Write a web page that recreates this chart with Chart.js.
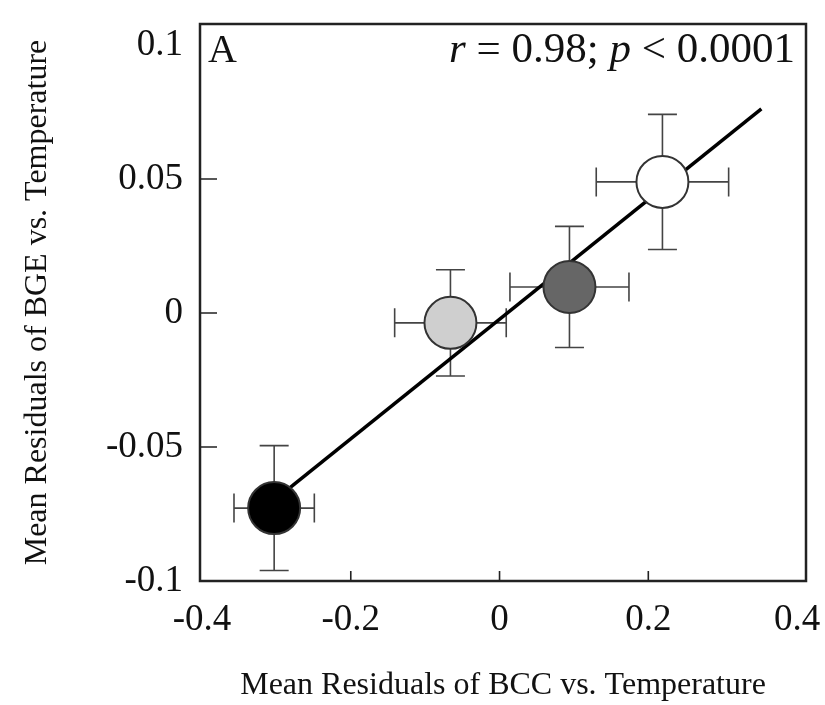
<!DOCTYPE html>
<html>
<head>
<meta charset="utf-8">
<title>BGE vs BCC residuals</title>
<script src="https://cdn.jsdelivr.net/npm/chart.js@4.4.1/dist/chart.umd.min.js"></script>
<style>
  html, body { margin: 0; padding: 0; background: #fff; }
  #wrap { width: 825px; height: 705px; }
</style>
</head>
<body>
<div id="wrap"><canvas id="grafico" width="825" height="705"></canvas></div>
<script>
// --- DADOS ---
const bccResidual = [-0.303, -0.066, 0.094, 0.219];
const bgeResidual = [-0.0728, -0.0037, 0.0097, 0.0489];
const bccErro = [0.054, 0.075, 0.080, 0.089];
const bgeErro = [0.0233, 0.0198, 0.0226, 0.0252];
const corPonto = ['#000000', '#cfcfcf', '#666666', '#ffffff'];

// reta de regressao (extremos)
const retaX = [-0.303, 0.352];
const retaY = [-0.0699, 0.0761];

const ticksX = [-0.4, -0.2, 0, 0.2, 0.4];
const ticksY = [-0.1, -0.05, 0, 0.05, 0.1];

const FONTE = '"Liberation Serif", "Times New Roman", serif';

// zera o padding extra que o Chart.js reserva para os rotulos das pontas
function semPadding(s) {
  s.paddingTop = 0; s.paddingBottom = 0; s.paddingLeft = 0; s.paddingRight = 0;
}

// barras de erro, desenhadas antes das marcas
const barrasErro = {
  id: 'barrasErro',
  beforeDatasetsDraw(chart) {
    const { ctx, scales: { x, y } } = chart;
    const cap = 14.5;
    ctx.save();
    ctx.strokeStyle = '#444';
    ctx.lineWidth = 1.6;
    for (let i = 0; i < bccResidual.length; i++) {
      const cx = x.getPixelForValue(bccResidual[i]);
      const cy = y.getPixelForValue(bgeResidual[i]);
      const x0 = x.getPixelForValue(bccResidual[i] - bccErro[i]);
      const x1 = x.getPixelForValue(bccResidual[i] + bccErro[i]);
      const y0 = y.getPixelForValue(bgeResidual[i] + bgeErro[i]);
      const y1 = y.getPixelForValue(bgeResidual[i] - bgeErro[i]);
      ctx.beginPath();
      ctx.moveTo(x0, cy); ctx.lineTo(x1, cy);
      ctx.moveTo(x0, cy - cap); ctx.lineTo(x0, cy + cap);
      ctx.moveTo(x1, cy - cap); ctx.lineTo(x1, cy + cap);
      ctx.moveTo(cx, y0); ctx.lineTo(cx, y1);
      ctx.moveTo(cx - cap, y0); ctx.lineTo(cx + cap, y0);
      ctx.moveTo(cx - cap, y1); ctx.lineTo(cx + cap, y1);
      ctx.stroke();
    }
    ctx.restore();
  }
};

// moldura completa, ticks para dentro e textos do painel
const moldura = {
  id: 'moldura',
  afterDraw(chart) {
    const { ctx, chartArea: a, scales: { x, y } } = chart;
    ctx.save();
    ctx.strokeStyle = '#222';
    ctx.lineWidth = 2.5;
    ctx.strokeRect(a.left, a.top, a.right - a.left, a.bottom - a.top);

    ctx.lineWidth = 1.6;
    ctx.beginPath();
    ticksY.slice(1, -1).forEach(v => {
      const py = y.getPixelForValue(v);
      ctx.moveTo(a.left, py); ctx.lineTo(a.left + 17, py);
    });
    ticksX.slice(1, -1).forEach(v => {
      const px = x.getPixelForValue(v);
      ctx.moveTo(px, a.bottom); ctx.lineTo(px, a.bottom - 10);
    });
    ctx.stroke();

    ctx.fillStyle = '#111';
    ctx.textBaseline = 'alphabetic';
    ctx.textAlign = 'left';
    ctx.font = '40px ' + FONTE;
    ctx.fillText('A', a.left + 8, a.top + 38);

    // r = 0.98; p < 0.0001  (r e p em italico)
    const partes = [
      ['italic', 'r'], ['normal', ' = 0.98; '], ['italic', 'p'], ['normal', ' < 0.0001']
    ];
    const tam = ' 43px ';
    let larg = 0;
    partes.forEach(p => { ctx.font = p[0] + tam + FONTE; larg += ctx.measureText(p[1]).width; });
    let px = a.right - 11 - larg;
    partes.forEach(p => {
      ctx.font = p[0] + tam + FONTE;
      ctx.fillText(p[1], px, a.top + 38);
      px += ctx.measureText(p[1]).width;
    });
    ctx.restore();
  }
};

const ctx = document.getElementById('grafico').getContext('2d');
new Chart(ctx, {
  type: 'scatter',
  data: {
    datasets: [
      {
        label: 'pontos',
        data: bccResidual.map((v, i) => ({ x: v, y: bgeResidual[i] })),
        backgroundColor: corPonto,
        borderColor: '#333',
        borderWidth: 2,
        pointRadius: 26,
        pointHoverRadius: 26,
        order: 1
      },
      {
        type: 'line',
        label: 'regressao',
        data: retaX.map((v, i) => ({ x: v, y: retaY[i] })),
        borderColor: '#000',
        borderWidth: 3.5,
        pointRadius: 0,
        fill: false,
        order: 2
      }
    ]
  },
  options: {
    responsive: false,
    animation: false,
    events: [],
    layout: { autoPadding: false, padding: { top: 24, right: 19, left: 0, bottom: 0 } },
    plugins: { legend: { display: false }, tooltip: { enabled: false } },
    scales: {
      x: {
        type: 'linear',
        min: -0.4027,
        max: 0.412,
        grid: { display: false, drawTicks: false },
        border: { display: false },
        afterBuildTicks: s => { s.ticks = ticksX.map(v => ({ value: v })); },
        afterFit: s => { s.height = 124; semPadding(s); },
        ticks: {
          padding: 17,
          color: '#111',
          maxRotation: 0,
          font: { family: FONTE, size: 37 },
          callback: v => String(v)
        },
        title: {
          display: true,
          text: 'Mean Residuals of BCC vs. Temperature',
          color: '#111',
          font: { family: FONTE, size: 32 },
          padding: { top: 0, bottom: 0 }
        }
      },
      y: {
        type: 'linear',
        min: -0.1,
        max: 0.1078,
        grid: { display: false, drawTicks: false },
        border: { display: false },
        afterBuildTicks: s => { s.ticks = ticksY.map(v => ({ value: v })); },
        afterFit: s => { s.width = 200; semPadding(s); },
        ticks: {
          padding: 17,
          color: '#111',
          font: { family: FONTE, size: 37 },
          callback: v => String(v)
        },
        title: {
          display: true,
          text: 'Mean Residuals of BGE vs. Temperature',
          color: '#111',
          font: { family: FONTE, size: 32 },
          padding: { top: 18, bottom: 0 }
        }
      }
    }
  },
  plugins: [barrasErro, moldura]
});
</script>
</body>
</html>
